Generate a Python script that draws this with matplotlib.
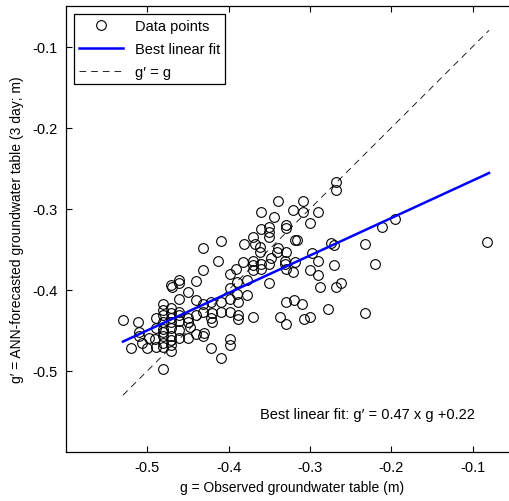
import numpy as np
import matplotlib
matplotlib.use("Agg")
import matplotlib.pyplot as plt

plt.rcParams['font.family'] = ['Liberation Sans', 'DejaVu Sans']

# observed (g) and forecasted (g') groundwater table
g_obs = [
    -0.530, -0.520, -0.511, -0.510, -0.510, -0.507, -0.500, -0.498, -0.491, -0.489,
    -0.481, -0.489, -0.481, -0.481, -0.481, -0.481, -0.481, -0.481, -0.471, -0.471,
    -0.471, -0.471, -0.471, -0.471, -0.471, -0.471, -0.470, -0.461, -0.461, -0.461,
    -0.461, -0.461, -0.461, -0.461, -0.450, -0.450, -0.448, -0.450, -0.440, -0.440,
    -0.440, -0.440, -0.430, -0.431, -0.432, -0.422, -0.422, -0.420, -0.422, -0.413,
    -0.409, -0.409, -0.409, -0.399, -0.399, -0.399, -0.399, -0.399, -0.399, -0.391,
    -0.390, -0.390, -0.389, -0.389, -0.378, -0.378, -0.370, -0.370, -0.370, -0.383,
    -0.481, -0.481, -0.471, -0.471, -0.481, -0.461, -0.489, -0.450, -0.432, -0.420,
    -0.389, -0.432, -0.370, -0.431, -0.409,
    -0.340, -0.309, -0.360, -0.344, -0.321, -0.309, -0.290, -0.300, -0.329, -0.329,
    -0.360, -0.350, -0.350, -0.350, -0.381, -0.370, -0.368, -0.362, -0.362, -0.340,
    -0.341, -0.319, -0.316, -0.329, -0.348, -0.360, -0.360, -0.350, -0.331, -0.331,
    -0.319, -0.329, -0.298, -0.290, -0.300, -0.290, -0.350, -0.288,
    -0.271, -0.321, -0.268, -0.262, -0.330, -0.320, -0.310, -0.278, -0.233, -0.337,
    -0.307, -0.300, -0.330,
    -0.268, -0.268, -0.212, -0.195, -0.274, -0.271, -0.232, -0.082, -0.220,
]
g_pred = [
    -0.437, -0.472, -0.440, -0.452, -0.457, -0.466, -0.472, -0.459, -0.461, -0.470,
    -0.498, -0.435, -0.418, -0.425, -0.431, -0.448, -0.457, -0.470, -0.423, -0.429,
    -0.435, -0.457, -0.462, -0.468, -0.475, -0.394, -0.396, -0.388, -0.391, -0.411,
    -0.427, -0.431, -0.450, -0.460, -0.403, -0.435, -0.446, -0.460, -0.389, -0.413,
    -0.431, -0.454, -0.453, -0.427, -0.376, -0.415, -0.435, -0.440, -0.472, -0.364,
    -0.415, -0.427, -0.484, -0.380, -0.398, -0.411, -0.427, -0.461, -0.468, -0.374,
    -0.390, -0.405, -0.415, -0.431, -0.388, -0.407, -0.433, -0.376, -0.364, -0.366,
    -0.440, -0.452, -0.440, -0.447, -0.465, -0.438, -0.447, -0.440, -0.417, -0.429,
    -0.436, -0.457, -0.370, -0.348, -0.340,
    -0.290, -0.290, -0.304, -0.310, -0.301, -0.304, -0.304, -0.318, -0.320, -0.324,
    -0.325, -0.322, -0.329, -0.335, -0.343, -0.335, -0.343, -0.347, -0.353, -0.349,
    -0.353, -0.339, -0.339, -0.353, -0.361, -0.368, -0.374, -0.368, -0.364, -0.368,
    -0.366, -0.374, -0.355, -0.364, -0.376, -0.382, -0.392, -0.396,
    -0.369, -0.378, -0.396, -0.391, -0.415, -0.413, -0.417, -0.424, -0.428, -0.433,
    -0.436, -0.433, -0.442,
    -0.267, -0.277, -0.322, -0.313, -0.342, -0.345, -0.343, -0.341, -0.368,
]

fit_slope = 0.462
fit_intercept = -0.219
line_range = [-0.53, -0.08]

fig = plt.figure(figsize=(5.09, 5.02), dpi=100)
# right edge of the box lies just outside the picture, as in the original
ax = fig.add_axes([66 / 509, 49 / 502, 452 / 509, 446 / 502])

ax.plot(g_obs, g_pred, 'o', mfc='none', mec='black', ms=7, mew=0.8,
        label='Data points', zorder=3)
xl = np.array(line_range)
ax.plot(xl, fit_slope * xl + fit_intercept, color='#0000ff', lw=1.8,
        label='Best linear fit', zorder=4)
ax.plot(xl, xl, '--', color='black', lw=0.6, dashes=(8, 6), label="g\u2032 = g", zorder=2)

ax.set_xlim(-0.6, -0.0444)
ax.set_ylim(-0.6, -0.05)
ax.set_xticks([-0.5, -0.4, -0.3, -0.2, -0.1])
ax.set_yticks([-0.5, -0.4, -0.3, -0.2, -0.1])
ax.set_xticklabels(['-0.5', '-0.4', '-0.3', '-0.2', '-0.1'])
ax.set_yticklabels(['-0.5', '-0.4', '-0.3', '-0.2', '-0.1'])
ax.tick_params(direction='in', top=True, right=True, length=4, width=0.8,
               labelsize=10.5, pad=6)
for s in ax.spines.values():
    s.set_linewidth(0.9)

ax.set_xlabel('g = Observed groundwater table (m)', fontsize=10, labelpad=4)
ax.set_ylabel('g\u2032 = ANN-forecasted groundwater table (3 day; m)', fontsize=10, labelpad=6)

ax.text(-0.229, -0.553, 'Best linear fit: g\u2032 = 0.47 x g +0.22',
        ha='center', va='center', fontsize=10.5)

leg = ax.legend(loc='upper left', bbox_to_anchor=(0.018, 0.982), borderaxespad=0,
                fontsize=10.5, fancybox=False, framealpha=1, edgecolor='black',
                borderpad=0.35, handlelength=3, labelspacing=0.6)
leg.get_frame().set_linewidth(0.9)

fig.savefig('out.png', dpi=100)
